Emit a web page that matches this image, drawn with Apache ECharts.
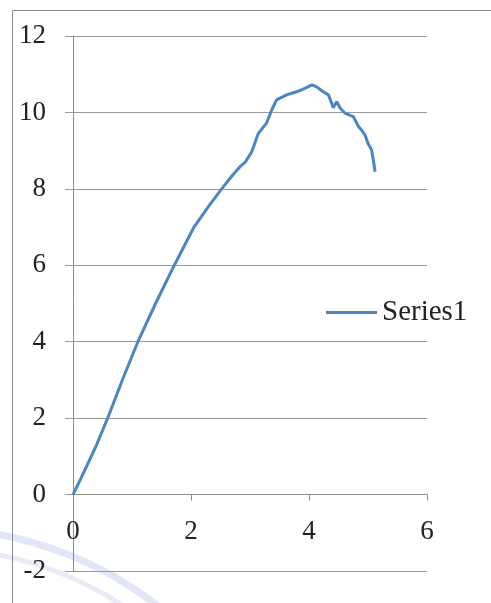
<!DOCTYPE html>
<html>
<head>
<meta charset="utf-8">
<script src="https://cdn.jsdelivr.net/npm/echarts@6/dist/echarts.min.js"></script>
<style>
  html, body { margin: 0; padding: 0; background: #fff; }
  #chart { width: 491px; height: 603px; }
</style>
</head>
<body>
<div id="chart"></div>
<script>
// Load–deformation curve (Series1)
const seriesName = 'Series1';
const xValues = [0, 0.12, 0.23, 0.4, 0.6, 0.85, 1.1, 1.4, 1.7, 2.04, 2.3, 2.52, 2.7, 2.83, 2.92, 3.03,
  3.14, 3.28, 3.37, 3.45, 3.62, 3.79, 3.93, 4.05, 4.13, 4.24, 4.33, 4.38, 4.41, 4.47, 4.53, 4.61,
  4.75, 4.84, 4.9, 4.95, 5.0, 5.06, 5.09, 5.12];
const yValues = [0, 0.38, 0.74, 1.3, 2.05, 3.05, 4.0, 5.0, 5.95, 6.97, 7.55, 8.0, 8.35, 8.58, 8.7, 8.97,
  9.45, 9.72, 10.07, 10.33, 10.46, 10.54, 10.63, 10.72, 10.67, 10.54, 10.46, 10.26, 10.12, 10.28, 10.11, 9.98,
  9.89, 9.63, 9.52, 9.41, 9.19, 9.02, 8.76, 8.45];
const xTicks = { min: 0, max: 6, step: 2 };
const yTicks = { min: -2, max: 12, step: 2 };

const points = xValues.map((x, i) => [x, yValues[i]]);
const font = '"Liberation Serif", "Times New Roman", serif';

// plot box
const gridTop = 36, gridBottom = 32, gridLeft = 73, gridRight = 64;
const plotHeight = 603 - gridTop - gridBottom;
// the horizontal axis sits on y = 0, so shift it up from the bottom edge
const xAxisShift = plotHeight * (0 - yTicks.min) / (yTicks.max - yTicks.min);

const chart = echarts.init(document.getElementById('chart'), null, { renderer: 'canvas' });

chart.setOption({
  backgroundColor: '#ffffff',
  animation: false,
  graphic: [
    { type: 'rect', z: -10, silent: true,
      shape: { x: 12.5, y: 10.5, width: 520, height: 620 },
      style: { fill: 'none', stroke: '#8a8a8a', lineWidth: 1 } },
    { type: 'circle', z: -20, silent: true,
      shape: { cx: -70, cy: 900, r: 372 },
      style: { fill: 'none', stroke: 'rgba(150,160,225,0.28)', lineWidth: 7 } },
    { type: 'circle', z: -20, silent: true,
      shape: { cx: -70, cy: 900, r: 352 },
      style: { fill: 'none', stroke: 'rgba(150,160,225,0.22)', lineWidth: 5 } }
  ],
  grid: { left: gridLeft, right: gridRight, top: gridTop, bottom: gridBottom,
    containLabel: false, outerBoundsMode: 'none' },
  legend: {
    data: [{ name: seriesName, icon: 'rect' }],
    left: 321, top: 293,
    itemWidth: 51, itemHeight: 3, itemGap: 8,
    textStyle: { fontFamily: font, fontSize: 29, color: '#222' }
  },
  xAxis: {
    type: 'value',
    position: 'bottom',
    offset: -xAxisShift,
    min: xTicks.min, max: xTicks.max, interval: xTicks.step,
    axisLine: { onZero: false, lineStyle: { color: '#8c8c8c', width: 1 } },
    axisTick: { show: true, inside: false, length: 6, lineStyle: { color: '#8c8c8c' } },
    axisLabel: { margin: 24, fontFamily: font, fontSize: 27, color: '#222' },
    splitLine: { show: false }
  },
  yAxis: {
    type: 'value',
    min: yTicks.min, max: yTicks.max, interval: yTicks.step,
    axisLine: { show: true, onZero: false, lineStyle: { color: '#8c8c8c', width: 1 } },
    axisTick: { show: true, inside: false, length: 8, lineStyle: { color: '#9a9a9a' } },
    axisLabel: { margin: 27, fontFamily: font, fontSize: 27, color: '#222' },
    splitLine: { show: true, lineStyle: { color: '#9a9a9a', width: 1 } }
  },
  series: [{
    name: seriesName,
    type: 'line',
    data: points,
    showSymbol: false,
    smooth: false,
    lineStyle: { color: '#4a86c2', width: 3 },
    itemStyle: { color: '#4a86c2' }
  }]
});
</script>
</body>
</html>
